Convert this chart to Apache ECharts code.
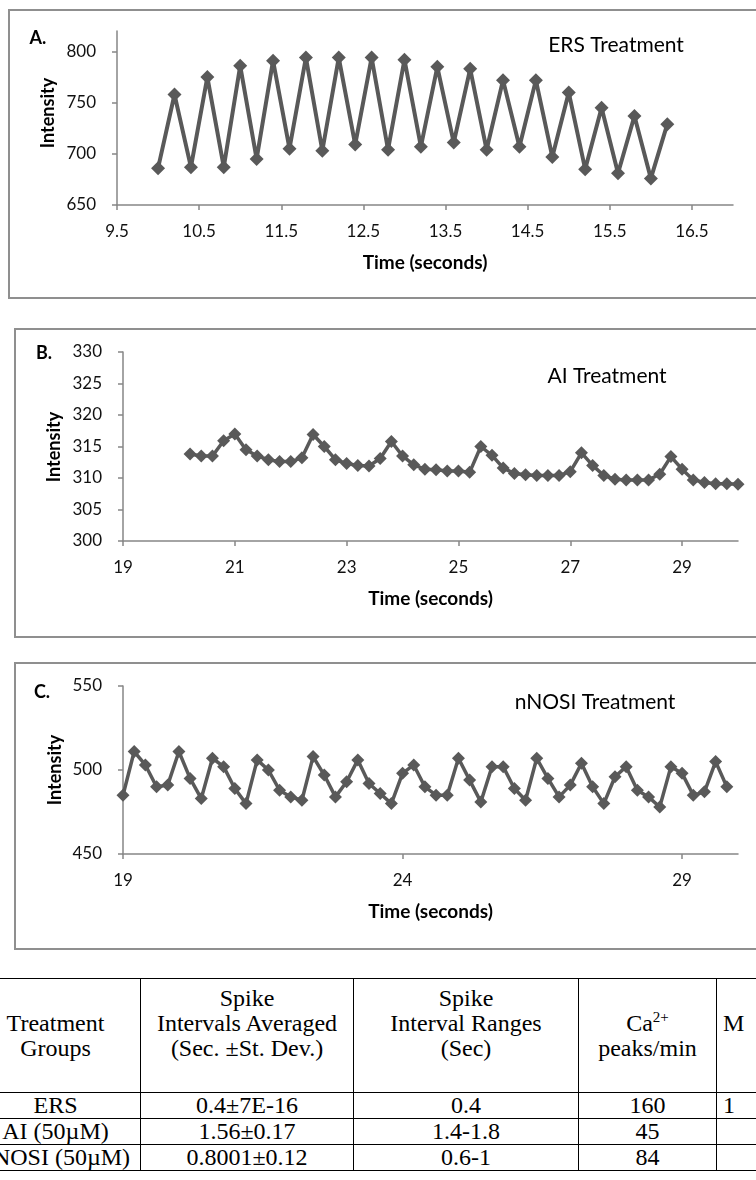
<!DOCTYPE html>
<html>
<head>
<meta charset="utf-8">
<script src="https://cdn.jsdelivr.net/npm/echarts@6/dist/echarts.min.js"></script>
<style>
  html, body { margin: 0; padding: 0; background: #fff; }
  body { width: 756px; height: 1180px; overflow: hidden; position: relative; }
  #chart { position: absolute; left: 0; top: 0; width: 756px; height: 960px; }
  #tbl { position: absolute; left: -30px; top: 978px; width: 920px; }
  #tbl table { border-collapse: collapse; table-layout: fixed; width: 906px;
    font-family: 'Liberation Serif', 'Times New Roman', serif;
    font-size: 24px; line-height: 25px; color: #000; }
  #tbl td { border: 1px solid #000; text-align: center; vertical-align: middle; padding: 0; white-space: nowrap; }
  #tbl tr.head td { height: 113px; }
  #tbl tr.row td { height: 25px; }
  #tbl sup { font-size: 15px; line-height: 0; vertical-align: 9px; }
  #tbl td.last { text-align: left; padding-left: 6px; }
</style>
</head>
<body>
<div id="chart"></div>
<div id="tbl">
  <table>
    <colgroup><col style="width:170px"><col style="width:213px"><col style="width:225px"><col style="width:138px"><col style="width:160px"></colgroup>
    <tr class="head">
      <td>Treatment<br>Groups</td>
      <td>Spike<br>Intervals Averaged<br>(Sec. ±St. Dev.)<br>&nbsp;</td>
      <td>Spike<br>Interval Ranges<br>(Sec)<br>&nbsp;</td>
      <td>Ca<sup>2+</sup><br>peaks/min</td>
      <td class="last">M<br>&nbsp;</td>
    </tr>
    <tr class="row"><td>ERS</td><td>0.4±7E-16</td><td>0.4</td><td>160</td><td class="last">1</td></tr>
    <tr class="row"><td>AI (50µM)</td><td>1.56±0.17</td><td>1.4-1.8</td><td>45</td><td class="last"></td></tr>
    <tr class="row"><td>nNOSI (50µM)</td><td>0.8001±0.12</td><td>0.6-1</td><td>84</td><td class="last"></td></tr>
  </table>
</div>
<script>
// A. ERS treatment
var ersTime = [10.0, 10.2, 10.4, 10.6, 10.8, 11.0, 11.2, 11.4, 11.6, 11.8, 12.0, 12.2, 12.4, 12.6, 12.8, 13.0,
               13.2, 13.4, 13.6, 13.8, 14.0, 14.2, 14.4, 14.6, 14.8, 15.0, 15.2, 15.4, 15.6, 15.8, 16.0, 16.2];
var ersIntensity = [686, 758, 687, 775, 687, 786, 695, 791, 705, 794, 703, 794, 709, 794, 704, 792,
                    707, 785, 711, 783, 704, 772, 707, 772, 697, 760, 685, 745, 681, 737, 676, 729];
var ersXTicks = [9.5, 10.5, 11.5, 12.5, 13.5, 14.5, 15.5, 16.5];
var ersYTicks = [650, 700, 750, 800];

// B. AI treatment
var aiTime = [20.2, 20.4, 20.6, 20.8, 21.0, 21.2, 21.4, 21.6, 21.8, 22.0, 22.2, 22.4, 22.6, 22.8, 23.0, 23.2, 23.4,
              23.6, 23.8, 24.0, 24.2, 24.4, 24.6, 24.8, 25.0, 25.2, 25.4, 25.6, 25.8, 26.0, 26.2, 26.4, 26.6,
              26.8, 27.0, 27.2, 27.4, 27.6, 27.8, 28.0, 28.2, 28.4, 28.6, 28.8, 29.0, 29.2, 29.4, 29.6, 29.8, 30.0];
var aiIntensity = [313.8, 313.5, 313.5, 315.9, 317.0, 314.5, 313.5, 312.9, 312.6, 312.6, 313.2, 316.9, 315.0, 312.9,
                   312.3, 312.0, 311.9, 313.1, 315.8, 313.5, 312.1, 311.4, 311.3, 311.1, 311.1, 310.9, 315.0, 313.6,
                   311.6, 310.7, 310.5, 310.4, 310.4, 310.4, 311.0, 314.0, 312.0, 310.4, 309.8, 309.7, 309.7, 309.7,
                   310.6, 313.4, 311.4, 309.7, 309.3, 309.1, 309.1, 309.0];
var aiXTicks = [19, 21, 23, 25, 27, 29];

// C. nNOSI treatment
var nnosiTime = [19.0, 19.2, 19.4, 19.6, 19.8, 20.0, 20.2, 20.4, 20.6, 20.8, 21.0, 21.2, 21.4, 21.6, 21.8, 22.0,
                 22.2, 22.4, 22.6, 22.8, 23.0, 23.2, 23.4, 23.6, 23.8, 24.0, 24.2, 24.4, 24.6, 24.8, 25.0, 25.2,
                 25.4, 25.6, 25.8, 26.0, 26.2, 26.4, 26.6, 26.8, 27.0, 27.2, 27.4, 27.6, 27.8, 28.0, 28.2, 28.4,
                 28.6, 28.8, 29.0, 29.2, 29.4, 29.6, 29.8];
var nnosiIntensity = [485, 511, 503, 490, 491, 511, 495, 483, 507, 502, 489, 480, 506, 500, 488, 484,
                      482, 508, 497, 484, 493, 506, 492, 486, 480, 498, 503, 490, 485, 485, 507, 494,
                      481, 502, 502, 489, 482, 507, 495, 484, 491, 504, 490, 480, 496, 502, 488, 484,
                      478, 502, 498, 485, 487, 505, 490];
var nnosiXTicks = [19, 24, 29];

var font = 'Lato, "Open Sans", sans-serif';
var axisGray = '#868686';
var markGray = '#595959';

function pairs(xs, ys) {
    var out = [];
    for (var i = 0; i < xs.length; i++) out.push([xs[i], ys[i]]);
    return out;
}

function xAx(idx, min, max, ticks) {
    return {
        type: 'value', gridIndex: idx, min: min, max: max,
        name: 'Time (seconds)', nameLocation: 'middle', nameGap: 48,
        nameTextStyle: { fontFamily: font, fontSize: 19, fontWeight: 'bold', color: '#000' },
        axisLine: { show: true, lineStyle: { color: axisGray, width: 1.5 } },
        axisTick: { show: true, length: 5, customValues: ticks, lineStyle: { color: axisGray, width: 1.5 } },
        axisLabel: { customValues: ticks, margin: 18, fontFamily: font, fontSize: 17, color: '#111' },
        splitLine: { show: false }
    };
}

function yAx(idx, min, max, ticks) {
    return {
        type: 'value', gridIndex: idx, min: min, max: max,
        axisLine: { show: true, lineStyle: { color: axisGray, width: 1.5 } },
        axisTick: { show: true, length: 5, customValues: ticks, lineStyle: { color: axisGray, width: 1.5 } },
        axisLabel: { customValues: ticks, margin: 21, fontFamily: font, fontSize: 17, color: '#111' },
        splitLine: { show: false }
    };
}

function txt(x, y, s, size, bold, rot) {
    return {
        type: 'text', x: x, y: y, rotation: rot || 0, silent: true,
        style: { text: s, fontFamily: font, fontSize: size, fontWeight: bold ? 'bold' : 'normal',
                 fill: '#000', align: 'center', verticalAlign: 'middle' }
    };
}

function frame(x, y, h) {
    return { type: 'rect', shape: { x: x, y: y, width: 900, height: h }, silent: true,
             style: { fill: 'none', stroke: '#8f8f8f', lineWidth: 2 } };
}

var chart = echarts.init(document.getElementById('chart'));

var option = {
    animation: false,
    backgroundColor: '#fff',
    grid: [
        { left: 117, top: 31, width: 616, height: 174 },
        { left: 123, top: 352, width: 615, height: 189 },
        { left: 123, top: 686, width: 615, height: 168 }
    ],
    xAxis: [
        xAx(0, 9.5, 17, ersXTicks),
        xAx(1, 19, 30, aiXTicks),
        xAx(2, 19, 30, nnosiXTicks)
    ],
    yAxis: [
        yAx(0, 650, 820, ersYTicks),
        { type: 'value', gridIndex: 1, min: 300, max: 330, interval: 5,
          axisLine: { show: true, lineStyle: { color: axisGray, width: 1.5 } },
          axisTick: { show: true, length: 5, lineStyle: { color: axisGray, width: 1.5 } },
          axisLabel: { margin: 21, fontFamily: font, fontSize: 17, color: '#111' },
          splitLine: { show: false } },
        { type: 'value', gridIndex: 2, min: 450, max: 550, interval: 50,
          axisLine: { show: true, lineStyle: { color: axisGray, width: 1.5 } },
          axisTick: { show: true, length: 5, lineStyle: { color: axisGray, width: 1.5 } },
          axisLabel: { margin: 21, fontFamily: font, fontSize: 17, color: '#111' },
          splitLine: { show: false } }
    ],
    series: [
        { name: 'ERS', type: 'line', xAxisIndex: 0, yAxisIndex: 0, data: pairs(ersTime, ersIntensity),
          symbol: 'diamond', symbolSize: 14, lineStyle: { color: markGray, width: 4 },
          itemStyle: { color: markGray } },
        { name: 'AI', type: 'line', xAxisIndex: 1, yAxisIndex: 1, data: pairs(aiTime, aiIntensity),
          symbol: 'diamond', symbolSize: 13, lineStyle: { color: markGray, width: 3.5 },
          itemStyle: { color: markGray } },
        { name: 'nNOSI', type: 'line', xAxisIndex: 2, yAxisIndex: 2, data: pairs(nnosiTime, nnosiIntensity),
          symbol: 'diamond', symbolSize: 13, lineStyle: { color: markGray, width: 3.5 },
          itemStyle: { color: markGray } }
    ],
    graphic: [
        frame(9, 10, 288),
        frame(15, 329, 308),
        frame(15, 663, 286),
        txt(38, 38, 'A.', 18, true),
        txt(44, 353, 'B.', 18, true),
        txt(42, 692, 'C.', 18, true),
        txt(48, 113, 'Intensity', 18, true, Math.PI / 2),
        txt(54, 447, 'Intensity', 18, true, Math.PI / 2),
        txt(55, 770, 'Intensity', 18, true, Math.PI / 2),
        txt(616, 45, 'ERS Treatment', 21, false),
        txt(607, 376, 'AI Treatment', 21, false),
        txt(595, 702, 'nNOSI Treatment', 21, false)
    ]
};

chart.setOption(option);
</script>
</body>
</html>
